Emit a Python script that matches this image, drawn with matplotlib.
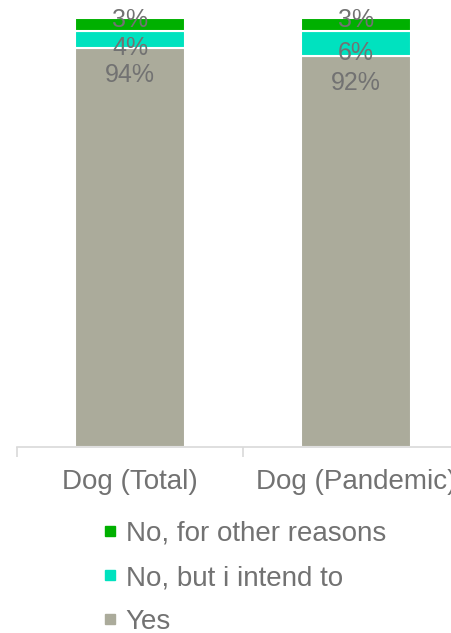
import matplotlib.pyplot as plt
from matplotlib.lines import Line2D

plt.rcParams['font.family'] = ['Liberation Sans', 'DejaVu Sans']

categories = ['Dog (Total)', 'Dog (Pandemic)']
series_names = ['Yes', 'No, but i intend to', 'No, for other reasons']
yes = [94, 92]
intend = [4, 6]
other = [3, 3]
colors = ['#ABAB9B', '#00E2BF', '#00B000']

text_gray = '#727272'
axis_gray = '#D9D9D9'

fig = plt.figure(figsize=(4.52, 6.33), dpi=100)
ax = fig.add_axes([17 / 452, 1 - 447 / 633, 1.0, 447 / 633])

x = list(range(len(categories)))
series = [yes, intend, other]
# label offset from segment centre, in data units
offsets = [None, -2.2, 1.0]

bottom = [0] * len(categories)
for vals, color, name, off in zip(series, colors, series_names, offsets):
    ax.bar(x, vals, width=0.487, bottom=bottom, color=color,
           edgecolor='white', linewidth=1.5, label=name)
    for i, v in enumerate(vals):
        if off is None:
            ly = bottom[i] + v - 6.4
        else:
            ly = bottom[i] + v / 2 + off
        ax.text(x[i], ly, f'{v}%', ha='center', va='center',
                fontsize=18, color=text_gray)
    bottom = [b + v for b, v in zip(bottom, vals)]

ax.set_xlim(-0.5, 1.5)
ax.set_ylim(0, 447 / 4.25)

for side in ['left', 'right', 'top']:
    ax.spines[side].set_visible(False)
ax.spines['bottom'].set_color(axis_gray)
ax.spines['bottom'].set_linewidth(1.2)

ax.set_yticks([])
ax.set_xticks(x)
ax.set_xticklabels(categories, fontsize=20, color=text_gray)
ax.tick_params(axis='x', which='major', length=0, pad=16)
ax.set_xticks([-0.5, 0.5, 1.5], minor=True)
ax.tick_params(axis='x', which='minor', length=7.5, width=1.2, color=axis_gray)

handles = [Line2D([], [], marker='s', linestyle='none', markersize=6.5,
                  color=c) for c in colors]
leg = fig.legend(handles[::-1], series_names[::-1], loc='upper left',
                 bbox_to_anchor=(102 / 452, 1 - 521 / 633), frameon=False,
                 fontsize=20, labelcolor=text_gray, handlelength=0.6,
                 handletextpad=0.25, labelspacing=0.65, borderpad=0,
                 borderaxespad=0)

fig.savefig('out.png', dpi=100)
